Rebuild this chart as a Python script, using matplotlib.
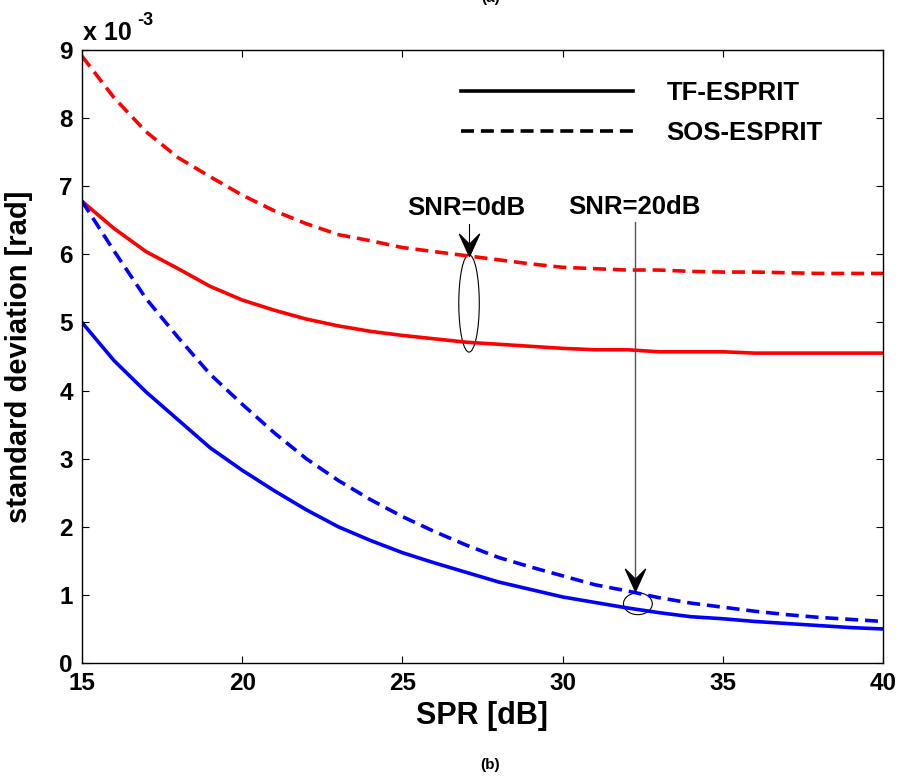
import matplotlib
matplotlib.use("Agg")
import matplotlib.pyplot as plt
from matplotlib.patches import Ellipse
from matplotlib.path import Path
from matplotlib.lines import Line2D

plt.rcParams['font.family'] = ['Liberation Sans', 'DejaVu Sans']
plt.rcParams['font.weight'] = 'bold'

# SPR axis [dB] and std of the estimates, in units of 1e-3 rad
spr = list(range(15, 41))
tf_snr0 = [6.78, 6.38, 6.04, 5.79, 5.53, 5.33, 5.18, 5.05, 4.95, 4.87, 4.81, 4.76, 4.71,
           4.68, 4.65, 4.62, 4.60, 4.60, 4.57, 4.57, 4.57, 4.55, 4.55, 4.55, 4.55, 4.55]
sos_snr0 = [8.91, 8.30, 7.80, 7.42, 7.14, 6.87, 6.64, 6.45, 6.29, 6.20, 6.10, 6.04, 5.98,
            5.92, 5.86, 5.81, 5.79, 5.77, 5.77, 5.75, 5.74, 5.74, 5.73, 5.72, 5.72, 5.72]
tf_snr20 = [5.00, 4.44, 3.98, 3.57, 3.16, 2.83, 2.53, 2.25, 2.00, 1.80, 1.62, 1.47, 1.33,
            1.19, 1.08, 0.97, 0.89, 0.81, 0.74, 0.68, 0.65, 0.61, 0.58, 0.55, 0.52, 0.50]
sos_snr20 = [6.78, 6.05, 5.35, 4.78, 4.24, 3.80, 3.38, 3.00, 2.68, 2.40, 2.15, 1.93, 1.73,
             1.55, 1.41, 1.28, 1.15, 1.06, 0.96, 0.88, 0.82, 0.76, 0.71, 0.67, 0.64, 0.61]

xticks = [15, 20, 25, 30, 35, 40]
yticks = list(range(0, 10))

fig = plt.figure(figsize=(9, 7.77), dpi=100)
ax = fig.add_axes([0.0911, 0.1467, 0.8900, 0.7889])

lw = 2.6
dash = (0, (3.6, 1.9))
ax.plot(spr, sos_snr0, color='red', lw=lw, ls=dash)
ax.plot(spr, tf_snr0, color='red', lw=lw)
ax.plot(spr, sos_snr20, color='blue', lw=lw, ls=dash)
ax.plot(spr, tf_snr20, color='blue', lw=lw)

ax.set_xlim(15, 40)
ax.set_ylim(0, 9)
ax.set_xticks(xticks)
ax.set_yticks(yticks)
ax.tick_params(direction='in', length=5, width=0.8, labelsize=17.5, pad=6.5,
               top=True, right=True)
for sp in ax.spines.values():
    sp.set_linewidth(1.0)

ax.set_xlabel('SPR [dB]', fontsize=22, fontweight='bold', labelpad=4)
ax.set_ylabel('standard deviation [rad]', fontsize=21, fontweight='bold')
ax.yaxis.set_label_coords(-0.061, 0.5)

fig.text(0.092, 0.948, 'x 10', fontsize=18, fontweight='bold', ha='left', va='baseline')
fig.text(0.152, 0.968, '-3', fontsize=13, fontweight='bold', ha='left', va='baseline')

# legend, black handles only
handles = [Line2D([], [], color='black', lw=lw),
           Line2D([], [], color='black', lw=lw, ls=dash)]
ax.legend(handles, ['TF-ESPRIT', 'SOS-ESPRIT'], loc='upper left',
          bbox_to_anchor=(0.473, 0.949), frameon=False, fontsize=18.5,
          handlelength=6.7, handletextpad=1.3, labelspacing=0.6,
          borderpad=0, borderaxespad=0)

# notched arrowhead pointing down, tip at the marker origin
head = Path([(0, 0), (0.45, 1.0), (0, 0.55), (-0.45, 1.0), (0, 0)],
            [Path.MOVETO, Path.LINETO, Path.LINETO, Path.LINETO, Path.CLOSEPOLY])

# SNR = 0 dB callout
ax.text(26.98, 6.68, 'SNR=0dB', fontsize=18.5, fontweight='bold', ha='center', va='center')
ax.plot([27.08, 27.08], [6.45, 6.0], color='black', lw=0.8)
ax.plot([27.08], [5.98], marker=head, ms=32, color='black', mec='black')
ax.add_patch(Ellipse((27.08, 5.28), 0.64, 1.43, fill=False, ec='black', lw=0.8))

# SNR = 20 dB callout
ax.text(32.23, 6.70, 'SNR=20dB', fontsize=18.5, fontweight='bold', ha='center', va='center')
ax.plot([32.26, 32.26], [6.47, 1.1], color='#555555', lw=1.0)
ax.plot([32.26], [1.06], marker=head, ms=32, color='black', mec='black')
ax.add_patch(Ellipse((32.35, 0.87), 0.9, 0.32, fill=False, ec='black', lw=0.8))

fig.text(0.545, 0.0155, '(b)', fontsize=11, fontweight='bold', ha='center', va='center')
fig.text(0.545, 1.003, '(a)', fontsize=11, fontweight='bold', ha='center', va='center')

fig.savefig('out.png', dpi=100)
